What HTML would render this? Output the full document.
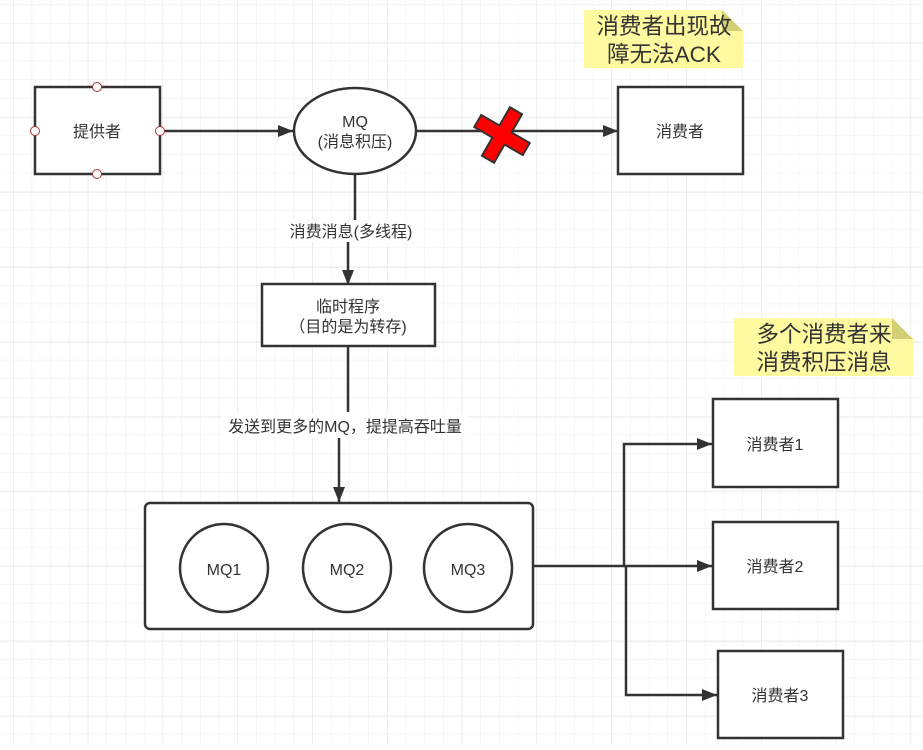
<!DOCTYPE html>
<html><head><meta charset="utf-8"><style>
body{margin:0;background:#fff}
svg text{font-family:"Liberation Sans","Noto Sans CJK SC",sans-serif;fill:#333}
</style></head><body>
<svg width="923" height="745" xmlns="http://www.w3.org/2000/svg">
<defs>
<pattern id="g" x="13" y="4.5" width="18.7" height="18.7" patternUnits="userSpaceOnUse"><path d="M0 0H18.7M0 0V18.7" stroke="#eeeeee" stroke-width="1" fill="none"/></pattern>
<pattern id="G" x="13" y="-32" width="74.8" height="74.8" patternUnits="userSpaceOnUse"><path d="M0 0H74.8M0 0V74.8" stroke="#e2e2e2" stroke-width="1" fill="none"/></pattern>
<marker id="b" markerWidth="16" markerHeight="12" refX="15" refY="6" orient="auto" markerUnits="userSpaceOnUse"><path d="M0 0L15 6L0 12z" fill="#333"/></marker>
</defs>
<rect width="923" height="745" fill="url(#g)"/>
<rect width="923" height="745" fill="url(#G)"/>
<g stroke="#333" stroke-width="2.5" fill="none">
<line x1="160" y1="131" x2="293" y2="131" marker-end="url(#b)"/>
<line x1="416" y1="131" x2="618" y2="131" marker-end="url(#b)"/>
<line x1="355" y1="174" x2="355" y2="220"/>
<line x1="348" y1="240" x2="348" y2="285" marker-end="url(#b)"/>
<line x1="348" y1="346" x2="348" y2="412"/>
<line x1="339" y1="437" x2="339" y2="502" marker-end="url(#b)"/>
<polyline points="533,566 624,566 624,444 712,444" marker-end="url(#b)"/>
<line x1="624" y1="566" x2="712" y2="566" marker-end="url(#b)"/>
<polyline points="626,566 626,695 717,695" marker-end="url(#b)"/>
</g>
<g stroke="#333" stroke-width="2.5" fill="#fff">
<rect x="35" y="87" width="125" height="87"/>
<ellipse cx="355" cy="131" rx="61" ry="43"/>
<rect x="618" y="87" width="125" height="87"/>
<rect x="262" y="284" width="173" height="62"/>
<rect x="145" y="503" width="388" height="126" rx="5"/>
<circle cx="224" cy="568" r="44"/>
<circle cx="347" cy="568" r="44"/>
<circle cx="468" cy="568" r="44"/>
<rect x="713" y="399" width="125" height="88"/>
<rect x="713" y="522" width="125" height="87"/>
<rect x="718" y="651" width="125" height="87"/>
</g>
<g fill="#fff" stroke="#a33" stroke-width="1">
<circle cx="97" cy="87" r="4.5"/><circle cx="97" cy="174" r="4.5"/><circle cx="35" cy="131" r="4.5"/><circle cx="160" cy="131" r="4.5"/>
</g>
<g transform="translate(502,135) rotate(30)">
<path d="M-7,-28 H7 V-7 H28 V7 H7 V28 H-7 V7 H-28 V-7 H-7 Z" fill="#f00" stroke="#333" stroke-width="2"/>
</g>
<path d="M584 10 H722 L743 31 V68 H584 Z" fill="#fff9a0"/>
<path d="M722 10 L743 31 H722 Z" fill="#d3cf75"/>
<path d="M734 318 H892 L913 339 V376 H734 Z" fill="#fff9a0"/>
<path d="M892 318 L913 339 H892 Z" fill="#d3cf75"/>
<rect x="283" y="220" width="134" height="22" fill="#fff"/>
<rect x="222" y="414" width="246" height="24" fill="#fff"/>
<g font-size="16" text-anchor="middle">
<text x="97" y="137">提供者</text>
<text x="355" y="127" font-size="16">MQ</text>
<text x="355" y="147">(消息积压)</text>
<text x="680" y="137">消费者</text>
<text x="351" y="237">消费消息(多线程)</text>
<text x="348" y="312">临时程序</text>
<text x="348" y="332">（目的是为转存)</text>
<text x="345" y="432">发送到更多的MQ，提提高吞吐量</text>
<text x="224" y="575">MQ1</text>
<text x="347" y="575">MQ2</text>
<text x="468" y="575">MQ3</text>
<text x="775" y="450">消费者1</text>
<text x="775" y="572">消费者2</text>
<text x="780" y="701">消费者3</text>
</g>
<g font-size="22.5" text-anchor="middle">
<text x="664" y="34">消费者出现故</text>
<text x="664" y="62">障无法ACK</text>
<text x="824" y="342">多个消费者来</text>
<text x="824" y="370">消费积压消息</text>
</g>
</svg>
</body></html>
